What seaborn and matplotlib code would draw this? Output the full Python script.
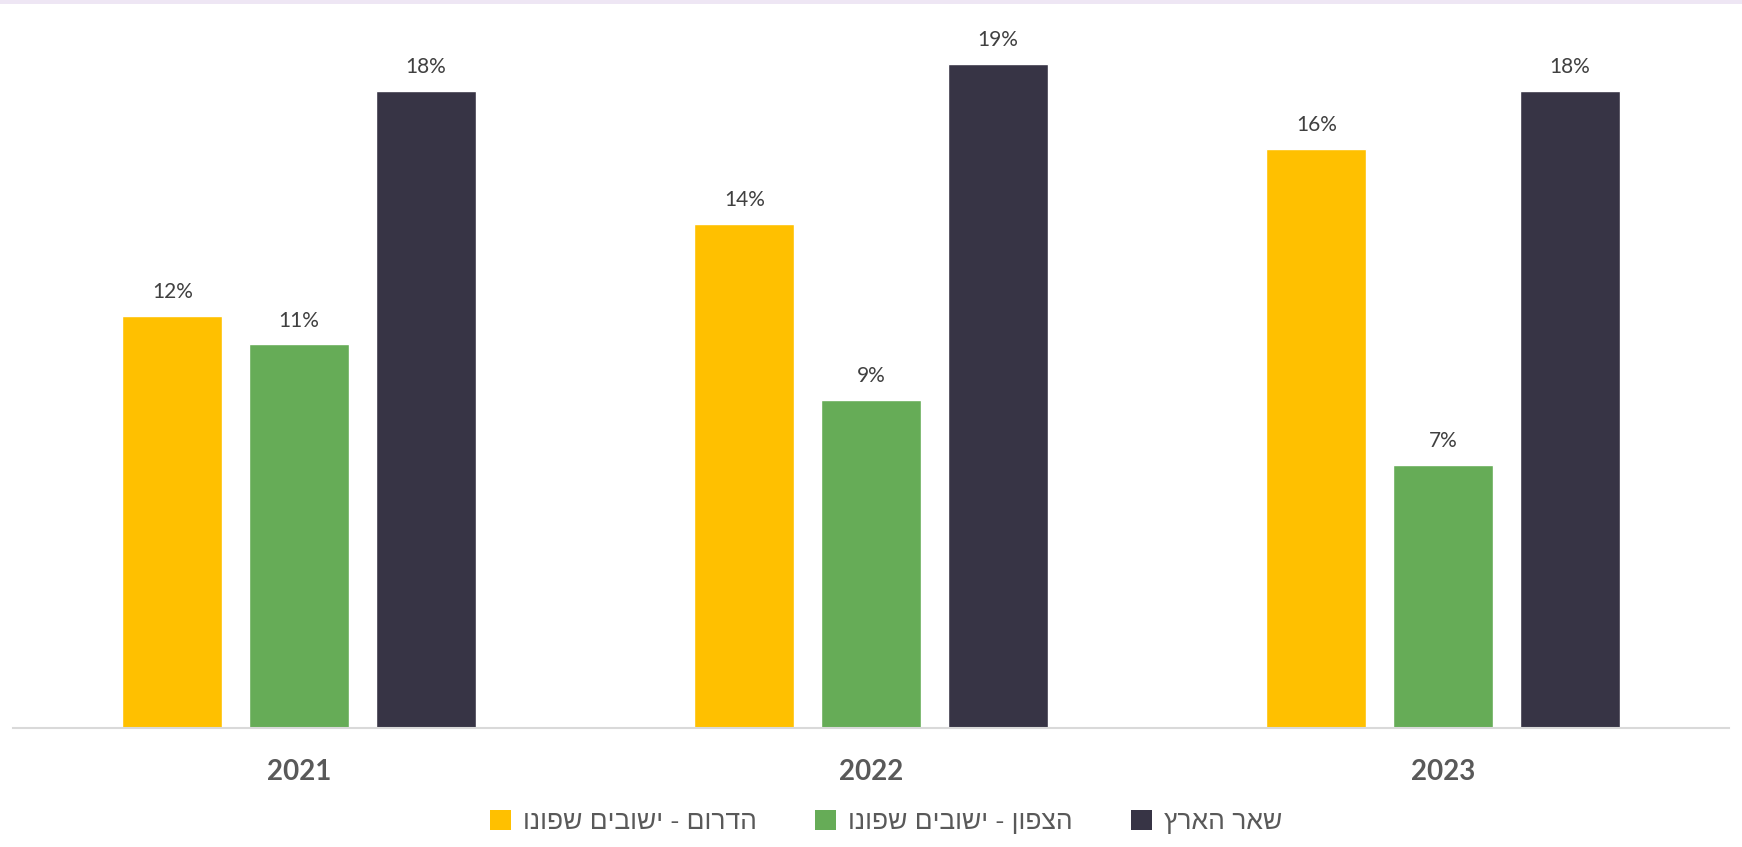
import matplotlib
matplotlib.use("Agg")
import matplotlib.pyplot as plt
from matplotlib.patches import Rectangle, Patch
import seaborn as sns
import pandas as pd

years = ["2021", "2022", "2023"]
series = ["הדרום - ישובים שפונו", "הצפון - ישובים שפונו", "שאר הארץ"]
south = [11.6, 14.2, 16.3]
north = [10.8, 9.25, 7.4]
rest = [17.95, 18.7, 17.95]
colors = ["#FFC000", "#66AC57", "#373445"]

rows = []
for name, vals in zip(series, [south, north, rest]):
    for y, v in zip(years, vals):
        rows.append({"year": y, "series": name, "value": v})
df = pd.DataFrame(rows)

sns.set_theme(style="white")
plt.rcParams["font.family"] = ["Lato", "DejaVu Sans"]

W, H = 1742, 847
fig = plt.figure(figsize=(W / 100, H / 100), dpi=100)
ax = fig.add_axes([13 / W, (H - 728) / H, (1729 - 13) / W, 728 / H])

sns.barplot(data=df, x="year", y="value", hue="series", hue_order=series,
            order=years, palette=colors, width=0.664, gap=0.21,
            saturation=1, legend=False, ax=ax, errorbar=None)

ax.set_xlim(-0.5, 2.5)
ax.set_ylim(0, 20.5)
for c in ax.containers:
    ax.bar_label(c, fmt=lambda v: f"{v:.0f}%", padding=10, fontsize=15,
                 color="#404040")

ax.set_xlabel("")
ax.set_ylabel("")
ax.set_yticks([])
for s in ["top", "right", "left"]:
    ax.spines[s].set_visible(False)
ax.spines["bottom"].set_color("#D9D9D9")
ax.spines["bottom"].set_linewidth(1.5)
ax.tick_params(axis="x", length=0, pad=22, labelsize=20, labelcolor="#595959")
for t in ax.get_xticklabels():
    t.set_fontweight("bold")

handles = [Patch(facecolor=c, edgecolor="none") for c in colors]
labels = [s[::-1] for s in series]
leg = fig.legend(handles, labels, loc="center", bbox_to_anchor=(886 / W, 1 - 822 / H),
                 ncol=3, frameon=False, handlelength=0.8, handleheight=0.8,
                 handletextpad=0.45, columnspacing=2.2,
                 prop={"family": ["Liberation Sans", "DejaVu Sans"], "size": 19})
for t in leg.get_texts():
    t.set_color("#595959")

fig.patches.append(Rectangle((0, 1 - 4 / H), 1, 4 / H, transform=fig.transFigure,
                             facecolor="#EEE6F4", edgecolor="none", zorder=0))

fig.savefig("out.png", dpi=100)
